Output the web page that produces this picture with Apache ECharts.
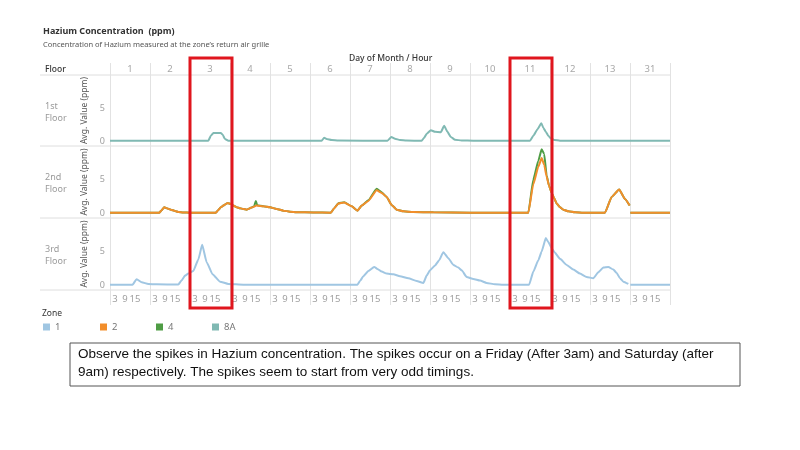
<!DOCTYPE html>
<html><head><meta charset="utf-8">
<script src="https://cdn.jsdelivr.net/npm/echarts@6/dist/echarts.min.js"></script>
<style>html,body{margin:0;padding:0;background:#fff}#c{width:800px;height:450px}</style>
</head><body><div id="c"></div>
<script>
// ---- data ----
const days = ['1','2','3','4','5','6','7','8','9','10','11','12','13','31'];
const hourTicks = [3, 9, 15];
const floors = ['1st\nFloor', '2nd\nFloor', '3rd\nFloor'];
const zoneNames = ['1', '2', '4', '8A'];
const highlightDays = ['3', '11'];
// points: [day index, hour, avg value]; null value = break in the line
const zone8A = [[0,0,0.05],[2,11,0.05],[2,12.5,0.8],[2,14,1.2],[2,18.5,1.2],[2,19.5,1.0],[2,21,0.3],[2,23,0.05],
  [5,7,0.05],[5,8.5,0.5],[5,10,0.3],[5,13,0.15],[5,17,0.07],[6,22.5,0.05],[7,0.8,0.6],[7,3,0.35],[7,6,0.15],
  [7,10,0.07],[7,19,0.05],[7,20.5,0.5],[7,22,1.1],[8,0.5,1.65],[8,3,1.4],[8,6.5,1.35],[8,8.5,2.3],[8,10.5,1.4],
  [8,12.5,0.6],[8,15,0.2],[8,19,0.08],[9,2,0.05],[10,12,0.05],[10,14,0.8],[10,16.5,1.8],[10,18.8,2.7],[10,20,2.0],
  [10,21.5,1.4],[10,23,0.8],[11,0.5,0.4],[11,2.5,0.15],[11,6,0.06],[12,24,0.05],[13,0,0.05],[13,24,0.05]];
const zone2 = [[0,0,0.05],[1,5.5,0.05],[1,7,0.4],[1,8.5,0.85],[1,10.5,0.65],[1,12.5,0.5],[1,15,0.3],[1,17,0.15],
  [1,20,0.07],[2,0,0.05],[2,15.5,0.05],[2,17,0.45],[2,18.5,0.85],[2,20,1.1],[2,22.5,1.5],[3,0.5,1.35],[3,2,1.1],
  [3,4,0.85],[3,6,0.7],[3,8,0.6],[3,10,0.5],[3,13,0.8],[3,16,1.1],[3,20,1.0],[4,0,0.85],[4,4,0.6],[4,8,0.35],
  [4,12,0.2],[4,16,0.12],[5,2,0.07],[5,12.5,0.05],[5,14.5,0.7],[5,17,1.4],[5,20.5,1.55],[6,1,1.0],[6,4.5,0.35],
  [6,7,1.1],[6,11,1.8],[6,16,3.4],[6,19,3.0],[6,22,2.4],[7,1,1.2],[7,4,0.5],[7,8,0.25],[7,14,0.15],[8,2,0.1],
  [9,0,0.05],[10,11,0.05],[10,14,4.3],[10,17,6.9],[10,19,8.2],[10,20.5,7.2],[10,22,5.4],[10,23.5,4.0],[11,1,3.0],
  [11,2.5,2.2],[11,4,1.4],[11,6,0.85],[11,8,0.5],[11,11,0.25],[11,15,0.1],[11,20,0.05],[12,9,0.05],[12,13,2.4],
  [12,17.5,3.5],[12,21,2.1],[12,23.8,1.1],[13,0,null],[13,0.2,0.05],[13,24,0.05]];
const zone4 = [[0,0,0.05],[1,5.5,0.05],[1,7,0.4],[1,8.5,0.85],[1,10.5,0.65],[1,12.5,0.5],[1,15,0.3],[1,17,0.15],
  [1,20,0.07],[2,0,0.05],[2,15.5,0.05],[2,17,0.45],[2,18.5,0.85],[2,20,1.1],[2,22.5,1.5],[3,0.5,1.35],[3,2,1.1],
  [3,4,0.85],[3,6,0.7],[3,8,0.6],[3,10,0.5],[3,13,0.8],[3,14.5,1.0],[3,15.5,1.8],[3,16.3,1.15],[3,20,1.0],
  [4,0,0.85],[4,4,0.6],[4,8,0.35],[4,12,0.2],[4,16,0.12],[5,2,0.07],[5,12.5,0.05],[5,14.5,0.7],[5,17,1.45],
  [5,20.5,1.6],[6,1,1.0],[6,4.5,0.35],[6,7,1.1],[6,11,1.9],[6,16,3.6],[6,19,3.1],[6,22,2.4],[7,1,1.2],[7,4,0.5],
  [7,8,0.25],[7,14,0.15],[8,2,0.1],[9,0,0.05],[10,11,0.05],[10,14,5.0],[10,17,7.8],[10,19,9.5],[10,20.5,8.8],
  [10,22,5.6],[10,23.5,4.0],[11,1,3.0],[11,2.5,2.2],[11,4,1.4],[11,6,0.85],[11,8,0.5],[11,11,0.25],[11,15,0.1],
  [11,20,0.05],[12,9,0.05],[12,13,2.4],[12,17.5,3.5],[12,21,2.1],[12,23.8,1.1],[13,0,null],[13,0.2,0.05],[13,24,0.05]];
const zone1 = [[0,0,0.05],[0,13.5,0.05],[0,16,0.87],[0,19,0.4],[0,23,0.15],[1,4,0.1],[1,17,0.07],[1,19,0.7],
  [1,21,1.4],[1,23,1.7],[2,2,2.1],[2,5,3.8],[2,7.3,6.0],[2,10,3.4],[2,13.5,1.6],[2,18,0.5],[2,23,0.15],[3,8,0.05],
  [6,4.5,0.05],[6,6,0.6],[6,8,1.3],[6,11,2.1],[6,14.5,2.7],[6,16.5,2.4],[6,19,2.0],[6,22,1.7],[7,2,1.6],[7,6,1.3],
  [7,11,1.0],[7,16,0.6],[7,20,0.3],[7,22,1.4],[8,0,2.2],[8,3,2.9],[8,5.5,3.7],[8,8,4.9],[8,11,4.0],[8,14,3.0],
  [8,17,2.6],[8,19,2.2],[8,22,1.2],[9,2,0.9],[9,6,0.65],[9,10,0.3],[9,15,0.1],[9,20,0.05],[10,11.5,0.05],
  [10,14,2.0],[10,17,3.7],[10,19,5.0],[10,21.5,7.0],[10,23,6.4],[11,1,5.5],[11,3,4.8],[11,6,3.9],[11,10,3.0],
  [11,14,2.3],[11,18,1.7],[11,22,1.2],[12,2,1.0],[12,5,1.9],[12,8,2.6],[12,11,2.7],[12,14,2.3],[12,16,1.8],
  [12,18,1.0],[12,20,0.5],[12,23,0.15],[13,0,null],[13,0.2,0.05],[13,24,0.05]];
const noteText = 'Observe the spikes in Hazium concentration. The spikes occur on a Friday (After 3am) and Saturday (after\n9am) respectively. The spikes seem to start from very odd timings.';

// ---- chart ----
const H = 24, XMAX = days.length * H;
const toXY = pts => pts.map(p => [p[0] * H + p[1], p[2] === null ? '-' : p[2]]);
const colors = {'1': '#a0c6e2', '2': '#f28e2b', '4': '#4f9d45', '8A': '#80b9b3'};
const font = 'Noto Sans, sans-serif';
const L = 110, W = 560;
const rows = [{top: 75, height: 71}, {top: 146, height: 72}, {top: 218, height: 72}];

const grids = [{left: L, top: 63, width: W, height: 242, outerBoundsMode: 'none'}]
  .concat(rows.map(r => ({left: L, top: r.top, width: W, height: r.height, outerBoundsMode: 'none'})));

const tickValues = [];
days.forEach((d, i) => hourTicks.forEach(h => tickValues.push(i * H + h)));

const xAxes = [
  {gridIndex: 0, type: 'value', min: 0, max: XMAX, interval: H, axisLine: {show: false}, axisTick: {show: false},
   axisLabel: {show: false}, splitLine: {show: true, lineStyle: {color: '#e2e2e2', width: 1}}},
  {gridIndex: 1, type: 'value', min: 0, max: XMAX, show: false},
  {gridIndex: 2, type: 'value', min: 0, max: XMAX, show: false},
  {gridIndex: 3, type: 'value', min: 0, max: XMAX, axisLine: {show: false}, axisTick: {show: false}, splitLine: {show: false},
   axisLabel: {customValues: tickValues, formatter: v => String(Math.round(v) % H), color: '#a0a0a0', fontSize: 9.5, margin: 4, fontFamily: font}},
  {gridIndex: 1, type: 'category', data: days, position: 'top', axisLine: {show: false}, axisTick: {show: false},
   axisLabel: {color: '#a8a8a8', fontSize: 9.5, margin: 1, fontFamily: font}}
];
const yAxes = [{gridIndex: 0, type: 'value', min: 0, max: 1, show: false}].concat(rows.map((r, i) => ({
  gridIndex: i + 1, type: 'value', min: -0.75, max: 10,
  axisLine: {show: false}, axisTick: {show: false}, splitLine: {show: false},
  axisLabel: {customValues: [0, 5], color: '#a0a0a0', fontSize: 9, margin: 5, fontFamily: font},
  name: 'Avg. Value (ppm)', nameLocation: 'middle', nameGap: 14,
  nameTextStyle: {color: '#555', fontSize: 8.5, fontFamily: font}
})));

function lineSeries(name, pts, row) {
  return {name, type: 'line', xAxisIndex: row + 1, yAxisIndex: row + 1, data: toXY(pts), showSymbol: false,
    symbol: 'none', connectNulls: false, smooth: 0.15, smoothMonotone: 'x',
    lineStyle: {color: colors[name], width: 2}, itemStyle: {color: colors[name]}, z: 3};
}
const series = [
  lineSeries('8A', zone8A, 0),
  lineSeries('4', zone4, 1),
  lineSeries('2', zone2, 1),
  lineSeries('1', zone1, 2)
];

const legendLefts = [43, 100, 156, 212];
const legends = zoneNames.map((n, i) => ({
  data: [n], left: legendLefts[i], top: 322, itemWidth: 7, itemHeight: 7, icon: 'rect', itemGap: 5,
  textStyle: {color: '#777', fontSize: 9.5, fontFamily: font}, selectedMode: false, padding: 0
}));

const rowLabelGraphics = rows.map((r, i) => ({type: 'text', left: 45, top: r.top + 25,
  style: {text: floors[i], fill: '#9a9a9a', font: '9px ' + font, lineHeight: 12}}));
const sepGraphics = [75, 146, 218, 290].map(y => ({type: 'line', shape: {x1: 40, y1: y, x2: L + W, y2: y},
  style: {stroke: '#dedede', lineWidth: 1}, z: 0}));

const chart = echarts.init(document.getElementById('c'), null, {renderer: 'canvas'});
chart.setOption({
  animation: false,
  backgroundColor: '#fff',
  grid: grids, xAxis: xAxes, yAxis: yAxes, series, legend: legends,
  graphic: [
    {type: 'text', left: 43, top: 27, style: {text: 'Hazium Concentration  (ppm)', fill: '#333', font: 'bold 9px ' + font}},
    {type: 'text', left: 43, top: 41, style: {text: 'Concentration of Hazium measured at the zone\u2019s return air grille', fill: '#555', font: '7.5px ' + font}},
    {type: 'text', left: 349, top: 54, style: {text: 'Day of Month / Hour', fill: '#333', font: '500 8.5px ' + font}},
    {type: 'text', left: 45, top: 65, style: {text: 'Floor', fill: '#333', font: '500 8.5px ' + font}},
    {type: 'text', left: 42, top: 309, style: {text: 'Zone', fill: '#333', font: '8.5px ' + font}},
    {type: 'rect', shape: {x: 70, y: 343, width: 670, height: 43}, style: {fill: 'none', stroke: '#555', lineWidth: 1}},
    {type: 'text', left: 78, top: 345, style: {text: noteText, fill: '#111', font: '13.5px Liberation Sans, sans-serif', lineHeight: 18}}
  ].concat(sepGraphics, rowLabelGraphics)
});

// highlight boxes on days 3 and 11, positioned through the day axis
const boxes = highlightDays.map((d, k) => {
  const i = days.indexOf(d);
  const x0 = chart.convertToPixel({xAxisIndex: 0}, i * H);
  const x1 = chart.convertToPixel({xAxisIndex: 0}, (i + 1) * H);
  return {id: 'box' + k, type: 'rect', shape: {x: x0, y: 58, width: x1 - x0 + 2, height: 250},
    style: {fill: 'none', stroke: '#e0161e', lineWidth: 3}, z: 10};
});
chart.setOption({graphic: boxes});
</script></body></html>
